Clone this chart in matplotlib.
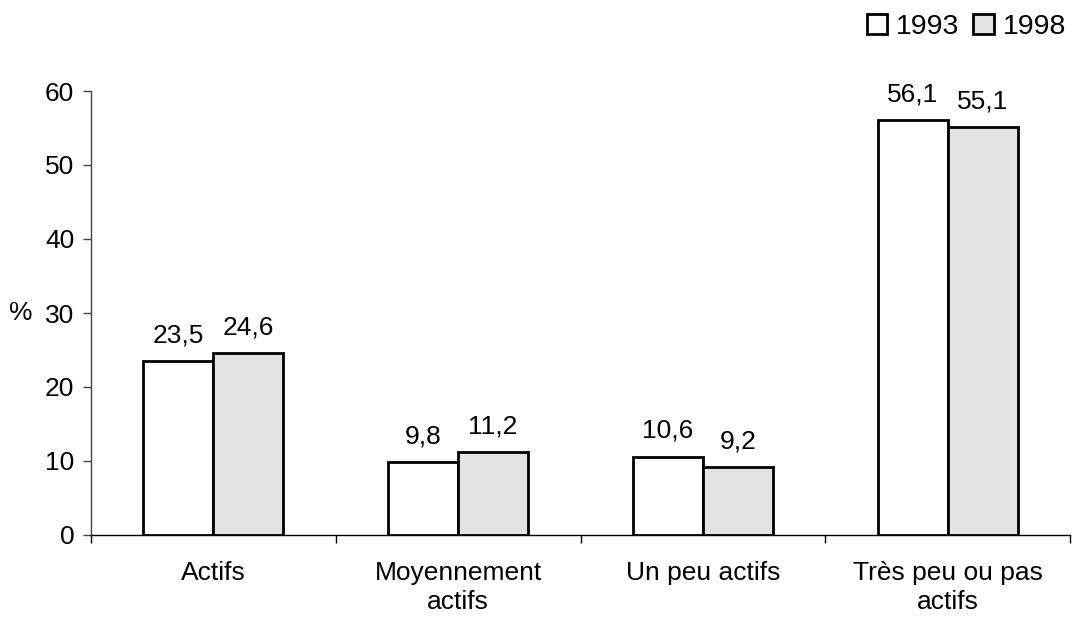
import matplotlib
matplotlib.use("Agg")
import matplotlib.pyplot as plt
import numpy as np
from matplotlib.patches import Patch

plt.rcParams['font.family'] = ['Liberation Sans', 'DejaVu Sans']

categories = ["Actifs", "Moyennement\nactifs", "Un peu actifs", "Très peu ou pas\nactifs"]
years = ["1993", "1998"]
values_1993 = [23.5, 9.8, 10.6, 56.1]
values_1998 = [24.6, 11.2, 9.2, 55.1]
colors = ["#ffffff", "#e3e3e3"]

FS = 19

fig = plt.figure(figsize=(10.8, 6.17), dpi=100)
ax = fig.add_axes([91/1080, 1-535/617, (1070-91)/1080, (535-91)/617])

x = np.arange(len(categories))
w = 0.286
for i, (vals, col) in enumerate(zip([values_1993, values_1998], colors)):
    pos = x + (i - 0.5) * w
    ax.bar(pos, vals, width=w, color=col, edgecolor="black", linewidth=2, zorder=3)
    for p, v in zip(pos, vals):
        ax.annotate(f"{v:.1f}".replace(".", ","), (p, v), xytext=(0, 13.5),
                    textcoords="offset points", ha="center", va="baseline", fontsize=FS)

ax.set_xlim(-0.5, len(categories) - 0.5)
ax.set_ylim(0, 60)
ax.set_yticks(range(0, 61, 10))
ax.tick_params(axis="y", labelsize=FS, length=6, width=1, pad=6, color="#444444")
ax.set_xticks(x)
ax.set_xticklabels(categories, fontsize=FS, linespacing=1.25)
ax.tick_params(axis="x", length=0, pad=19)
ax.set_xticks(np.arange(-0.5, len(categories), 1), minor=True)
ax.tick_params(axis="x", which="minor", length=6, width=1)

for s in ["top", "right"]:
    ax.spines[s].set_visible(False)
ax.spines["left"].set_linewidth(1)
ax.spines["bottom"].set_linewidth(1)
ax.spines["left"].set_color("#444444")

ax.text(-0.06, 30, "%", transform=ax.get_yaxis_transform(), ha="right", va="center",
        fontsize=FS)

handles = [Patch(facecolor=c, edgecolor="black", linewidth=2) for c in colors]
fig.legend(handles, years, loc="upper right", bbox_to_anchor=(1.008, 1.014), ncol=2,
           frameon=False, fontsize=20.5, handlelength=0.72, handleheight=0.72,
           handletextpad=0.3, columnspacing=0.5, borderpad=0.3)

fig.savefig("out.png", dpi=100)
